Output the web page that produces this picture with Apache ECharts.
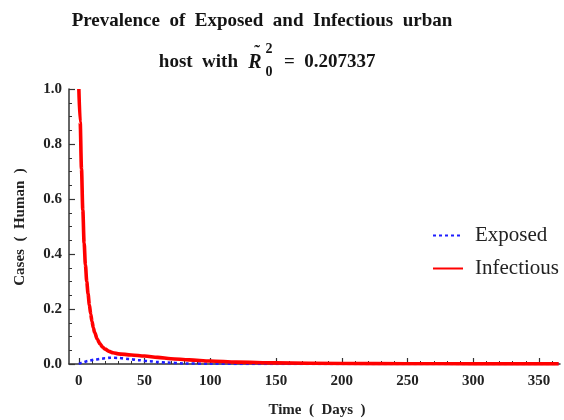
<!DOCTYPE html>
<html>
<head>
<meta charset="utf-8">
<script src="https://cdn.jsdelivr.net/npm/echarts@6/dist/echarts.min.js"></script>
<style>
  html, body { margin: 0; padding: 0; background: #ffffff; }
  #chart { width: 564px; height: 420px; }
</style>
</head>
<body>
<div id="chart"></div>
<script>
// Time points (days) and model prevalence for the urban host
const days = [0, 1, 2, 3, 4, 5, 6, 7, 8, 9, 10, 11, 12, 14, 16, 18, 20, 23, 26, 30, 40, 50, 60, 70, 84, 100, 120, 150, 200, 250, 300, 365];
const infectious = [1.0, 0.88, 0.71, 0.56, 0.44, 0.36, 0.3, 0.255, 0.215, 0.182, 0.155, 0.132, 0.115, 0.09, 0.074, 0.062, 0.054, 0.046, 0.041, 0.037, 0.033, 0.029, 0.024, 0.019, 0.015, 0.011, 0.007, 0.004, 0.002, 0.001, 0.0005, 0.0003];

const exposedDays = [0, 3, 7, 12, 17, 20, 24, 30, 39, 45, 54, 60, 67, 80, 100, 150, 200, 365];
const exposed = [0, 0.006, 0.011, 0.016, 0.019, 0.021, 0.023, 0.022, 0.018, 0.014, 0.01, 0.007, 0.005, 0.002, 0.0008, 0.0002, 0, 0];

const seriesNames = ['Exposed', 'Infectious'];
const xMajorTicks = [0, 50, 100, 150, 200, 250, 300, 350];
const xMinorTicks = [10, 20, 30, 40, 60, 70, 80, 90, 110, 120, 130, 140, 160, 170, 180, 190, 210, 220, 230, 240, 260, 270, 280, 290, 310, 320, 330, 340, 360];

const serif = '"Liberation Serif", "Times New Roman", serif';
const axisColor = '#333333';
const labelColor = '#222222';
const titleColor = '#141414';

const pair = (xs, ys) => xs.map((x, i) => [x, ys[i]]);

const chart = echarts.init(document.getElementById('chart'), null, { renderer: 'canvas' });

const option = {
  backgroundColor: '#ffffff',
  animation: false,
  grid: { left: 69, right: 4, top: 89, bottom: 56, containLabel: false },
  graphic: [
    {
      type: 'text', x: 262, y: 21,
      style: {
        text: 'Prevalence  of  Exposed  and  Infectious  urban',
        font: 'bold 19px ' + serif, fill: titleColor, textAlign: 'center', textVerticalAlign: 'middle'
      }
    },
    { type: 'text', x: 238, y: 62, style: { text: 'host  with', font: 'bold 19px ' + serif, fill: titleColor, textAlign: 'right', textVerticalAlign: 'middle' } },
    { type: 'text', x: 255, y: 63, style: { text: 'R', font: 'italic bold 20px ' + serif, fill: titleColor, textAlign: 'center', textVerticalAlign: 'middle' } },
    { type: 'text', x: 257, y: 53, style: { text: '\u02DC', font: 'bold 17px ' + serif, fill: titleColor, textAlign: 'center', textVerticalAlign: 'middle' } },
    { type: 'text', x: 269, y: 49, style: { text: '2', font: 'bold 14px ' + serif, fill: titleColor, textAlign: 'center', textVerticalAlign: 'middle' } },
    { type: 'text', x: 269, y: 72, style: { text: '0', font: 'bold 14px ' + serif, fill: titleColor, textAlign: 'center', textVerticalAlign: 'middle' } },
    { type: 'text', x: 284, y: 62, style: { text: '=  0.207337', font: 'bold 19px ' + serif, fill: titleColor, textAlign: 'left', textVerticalAlign: 'middle' } },
    { type: 'text', x: 317, y: 410, style: { text: 'Time  (  Days  )', font: 'bold 15px ' + serif, fill: labelColor, textAlign: 'center', textVerticalAlign: 'middle' } },
    { type: 'text', x: 20, y: 227, rotation: Math.PI / 2, style: { text: 'Cases  (  Human  )', font: 'bold 15px ' + serif, fill: labelColor, textAlign: 'center', textVerticalAlign: 'middle' } }
  ],
  legend: {
    orient: 'vertical',
    left: 427,
    top: 220,
    itemWidth: 30,
    itemHeight: 10,
    itemGap: 12,
    data: seriesNames,
    itemStyle: { opacity: 0 },
    textStyle: { fontFamily: serif, fontSize: 21, color: labelColor, padding: [0, 0, 0, 7] }
  },
  xAxis: [
    {
      type: 'value', min: -7.5, max: 366,
      axisLine: { show: true, onZero: false, lineStyle: { color: axisColor, width: 1.5 } },
      axisTick: { show: true, inside: true, length: 6, customValues: xMajorTicks, lineStyle: { color: axisColor, width: 1.2 } },
      axisLabel: { show: true, customValues: xMajorTicks, margin: 10, fontFamily: serif, fontWeight: 'bold', fontSize: 15, color: labelColor, showMinLabel: true, showMaxLabel: true },
      splitLine: { show: false }
    },
    {
      type: 'value', min: -7.5, max: 366, position: 'bottom',
      axisLine: { show: false },
      axisTick: { show: true, inside: true, length: 3, customValues: xMinorTicks, lineStyle: { color: axisColor, width: 1 } },
      axisLabel: { show: false },
      splitLine: { show: false }
    }
  ],
  yAxis: {
    type: 'value', min: 0, max: 1, interval: 0.2,
    axisLine: { show: true, onZero: false, lineStyle: { color: axisColor, width: 1.5 } },
    axisTick: { show: true, inside: true, length: 6, lineStyle: { color: axisColor, width: 1.2 } },
    minorTick: { show: true, splitNumber: 4, length: 3, lineStyle: { color: axisColor, width: 1 } },
    axisLabel: { margin: 7, fontFamily: serif, fontWeight: 'bold', fontSize: 15, color: labelColor, formatter: v => v.toFixed(1) },
    splitLine: { show: false },
    minorSplitLine: { show: false }
  },
  series: [
    {
      name: 'Exposed', type: 'line', smooth: 0.3, smoothMonotone: 'x', showSymbol: false, symbol: 'none',
      data: pair(exposedDays, exposed),
      lineStyle: { color: '#1f1fff', width: 2.6, type: [3, 3] },
      itemStyle: { color: '#1f1fff' },
      z: 2
    },
    {
      name: 'Infectious', type: 'line', smooth: 0.3, smoothMonotone: 'x', showSymbol: false, symbol: 'none',
      data: pair(days, infectious),
      lineStyle: { color: '#ff0000', width: 3.6 },
      itemStyle: { color: '#ff0000' },
      z: 3
    }
  ]
};

chart.setOption(option);
</script>
</body>
</html>
